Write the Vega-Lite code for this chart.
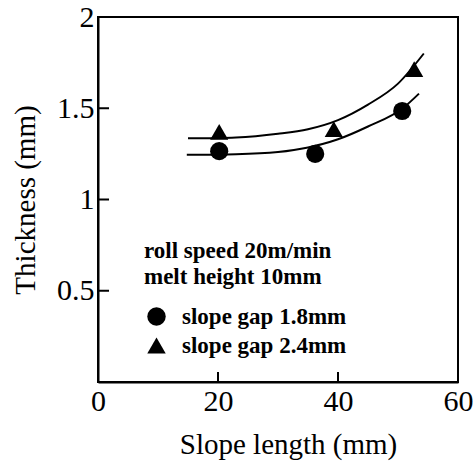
{
  "$schema": "https://vega.github.io/schema/vega-lite/v6.json",
  "width": 360,
  "height": 365,
  "autosize": {"type": "none"},
  "padding": {"left": 98, "top": 17, "right": 18, "bottom": 79},
  "background": "white",
  "datasets": {
    "curves": [
      {"series": "slope gap 2.4mm", "x": 15, "y": 1.335},
      {"series": "slope gap 2.4mm", "x": 23, "y": 1.34},
      {"series": "slope gap 2.4mm", "x": 30, "y": 1.36},
      {"series": "slope gap 2.4mm", "x": 35, "y": 1.385},
      {"series": "slope gap 2.4mm", "x": 40, "y": 1.435},
      {"series": "slope gap 2.4mm", "x": 45, "y": 1.52},
      {"series": "slope gap 2.4mm", "x": 50, "y": 1.635},
      {"series": "slope gap 2.4mm", "x": 54.3, "y": 1.8},
      {"series": "slope gap 1.8mm", "x": 14.8, "y": 1.245},
      {"series": "slope gap 1.8mm", "x": 23, "y": 1.248},
      {"series": "slope gap 1.8mm", "x": 30, "y": 1.26},
      {"series": "slope gap 1.8mm", "x": 35, "y": 1.285},
      {"series": "slope gap 1.8mm", "x": 40, "y": 1.33},
      {"series": "slope gap 1.8mm", "x": 45, "y": 1.4},
      {"series": "slope gap 1.8mm", "x": 50.8, "y": 1.5},
      {"series": "slope gap 1.8mm", "x": 53.5, "y": 1.58}
    ],
    "points": [
      {"series": "slope gap 1.8mm", "x": 20.2, "y": 1.265},
      {"series": "slope gap 1.8mm", "x": 36.2, "y": 1.25},
      {"series": "slope gap 1.8mm", "x": 50.7, "y": 1.485},
      {"series": "slope gap 2.4mm", "x": 20.2, "y": 1.37},
      {"series": "slope gap 2.4mm", "x": 39.3, "y": 1.385},
      {"series": "slope gap 2.4mm", "x": 52.7, "y": 1.715}
    ],
    "xticks": [{"value": 20}, {"value": 40}],
    "yticks": [{"value": 0.5}, {"value": 1}, {"value": 1.5}]
  },
  "config": {
    "view": {"stroke": "black", "strokeWidth": 2},
    "font": "Liberation Serif",
    "axis": {
      "domainColor": "black",
      "domainWidth": 2,
      "ticks": false,
      "grid": false,
      "labelFont": "Liberation Serif",
      "labelFontSize": 30,
      "labelColor": "black",
      "titleFont": "Liberation Serif",
      "titleFontSize": 29,
      "titleFontWeight": "normal",
      "titleColor": "black"
    }
  },
  "layer": [
    {
      "data": {"name": "curves"},
      "mark": {"type": "line", "interpolate": "monotone", "color": "black", "strokeWidth": 2},
      "encoding": {
        "x": {"field": "x", "type": "quantitative", "scale": {"domain": [0, 60]},
          "axis": {"title": "Slope length (mm)", "values": [0, 20, 40, 60], "labelPadding": 4, "titlePadding": 14, "labelFlush": false, "titleX": 190, "titleAlign": "center"}},
        "y": {"field": "y", "type": "quantitative", "scale": {"domain": [0, 2]},
          "axis": {"title": "Thickness (mm)", "values": [0.5, 1, 1.5, 2], "labelExpr": "datum.value", "labelPadding": 4, "titlePadding": 16, "labelFlush": false}},
        "detail": {"field": "series", "type": "nominal"}
      }
    },
    {
      "data": {"name": "xticks"},
      "mark": {"type": "rule", "color": "black", "strokeWidth": 2},
      "encoding": {
        "x": {"field": "value", "type": "quantitative"},
        "y": {"datum": 0},
        "y2": {"datum": 0.055}
      }
    },
    {
      "data": {"name": "yticks"},
      "mark": {"type": "tick", "orient": "horizontal", "color": "black", "size": 11, "thickness": 2, "opacity": 1},
      "encoding": {
        "y": {"field": "value", "type": "quantitative"},
        "x": {"datum": 0.92, "type": "quantitative"}
      }
    },
    {
      "data": {"name": "points"},
      "mark": {"type": "point", "filled": true, "color": "black", "opacity": 1, "size": 330},
      "encoding": {
        "x": {"field": "x", "type": "quantitative"},
        "y": {"field": "y", "type": "quantitative"},
        "shape": {
          "field": "series", "type": "nominal",
          "scale": {"domain": ["slope gap 1.8mm", "slope gap 2.4mm"], "range": ["circle", "triangle-up"]},
          "legend": {
            "title": ["roll speed 20m/min", "melt height 10mm"],
            "orient": "none",
            "legendX": 46,
            "legendY": 223,
            "padding": 0,
            "titleFont": "Liberation Serif",
            "titleFontSize": 23,
            "titleFontWeight": "bold",
            "titleLineHeight": 26,
            "titleColor": "black",
            "titlePadding": 16,
            "titleLimit": 0,
            "labelFont": "Liberation Serif",
            "labelFontSize": 23,
            "labelFontWeight": "bold",
            "labelColor": "black",
            "labelOffset": 14,
            "labelLimit": 0,
            "symbolSize": 340,
            "symbolFillColor": "black",
            "symbolStrokeColor": "black",
            "symbolOffset": 1,
            "rowPadding": 5
          }
        }
      }
    }
  ]
}
